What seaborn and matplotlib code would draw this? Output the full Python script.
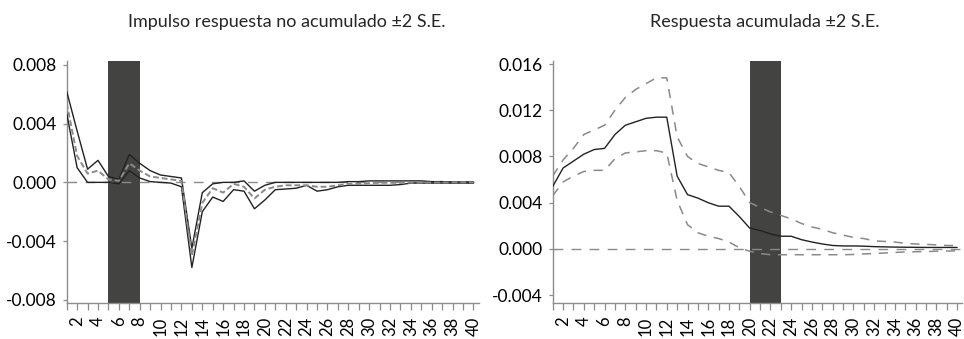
import numpy as np
import pandas as pd
import matplotlib
matplotlib.use("Agg")
import matplotlib.pyplot as plt
import seaborn as sns

periods = list(range(1, 41))

# Left panel: non-accumulated impulse response +-2 S.E.
irf_mid = [0.0054, 0.0018, 0.0006, 0.0008, 0.0002, 0.0001, 0.0013, 0.0008, 0.0004, 0.0003,
           0.0002, 0.0001, -0.0050, -0.0014, -0.0004, -0.0007, -0.0001, -0.0003, -0.0011, -0.0005,
           -0.0003, -0.0002, -0.0002, -0.0002, -0.0003, -0.0003, -0.0002, -0.0001, -0.0001, -0.00005,
           -0.00003, -0.00003, -0.00003, -0.00002, -0.00002, -0.00001, -0.00001, 0.0, 0.0, 0.0]
irf_up = [0.0062, 0.0035, 0.0009, 0.0015, 0.0004, 0.0002, 0.0019, 0.0013, 0.0008, 0.0005,
          0.0004, 0.0003, -0.0045, -0.0007, -0.0001, 0.0000, 0.0000, 0.0001, -0.0006, -0.0002,
          0.0000, 0.0000, 0.0000, 0.0000, 0.0000, 0.0000, 0.0000, 0.00005, 0.00005, 0.0001,
          0.0001, 0.0001, 0.0001, 0.0001, 0.0001, 0.00005, 0.00005, 0.00003, 0.00003, 0.00003]
irf_lo = [0.0047, 0.0010, 0.0000, 0.0000, 0.0000, -0.0001, 0.0008, 0.0003, 0.00005, 0.0000,
          -0.00005, -0.0003, -0.0058, -0.0020, -0.0010, -0.0013, -0.0005, -0.0006, -0.0018, -0.0012,
          -0.0005, -0.00045, -0.0004, -0.0002, -0.0006, -0.0005, -0.0003, -0.0002, -0.0002, -0.0002,
          -0.0002, -0.0002, -0.00015, -0.00005, -0.00005, -0.00005, -0.00005, -0.00005, -0.00005, -0.00005]

# Right panel: accumulated response +-2 S.E.
acc_mid = [0.0054, 0.0070, 0.0076, 0.0082, 0.0086, 0.0087, 0.0099, 0.0107, 0.0110, 0.0113,
           0.0114, 0.0114, 0.0063, 0.0047, 0.0044, 0.0040, 0.0037, 0.0037, 0.0028, 0.0018,
           0.0016, 0.0013, 0.0011, 0.0011, 0.0008, 0.0006, 0.00043, 0.0003, 0.00026, 0.00026,
           0.00024, 0.0002, 0.00018, 0.00016, 0.00015, 0.00014, 0.00013, 0.00013, 0.00013, 0.00013]
acc_up = [0.0063, 0.0077, 0.0087, 0.0099, 0.0103, 0.0107, 0.0120, 0.0131, 0.0138, 0.0143,
          0.0148, 0.0148, 0.0097, 0.0080, 0.0074, 0.0071, 0.0068, 0.0066, 0.0054, 0.0040,
          0.0036, 0.0032, 0.0029, 0.0026, 0.0022, 0.0019, 0.0017, 0.0014, 0.0012, 0.0010,
          0.0009, 0.0007, 0.00065, 0.0006, 0.00048, 0.00043, 0.0004, 0.00035, 0.0003, 0.0003]
acc_lo = [0.0046, 0.0058, 0.0063, 0.0067, 0.0068, 0.0068, 0.0078, 0.0083, 0.0084, 0.0085,
          0.0085, 0.0083, 0.0042, 0.0021, 0.0014, 0.0011, 0.0009, 0.0006, 0.0001, -0.0002,
          -0.0004, -0.0005, -0.0005, -0.0005, -0.0005, -0.0005, -0.0005, -0.0005, -0.0005, -0.00048,
          -0.00043, -0.0004, -0.00035, -0.0003, -0.00026, -0.00024, -0.00022, -0.0002, -0.00018, -0.00017]

titles = ["Impulso respuesta no acumulado \u00b12 S.E.", "Respuesta acumulada \u00b12 S.E."]
left_yticks = [-0.008, -0.004, 0.000, 0.004, 0.008]
right_yticks = [-0.004, 0.000, 0.004, 0.008, 0.012, 0.016]
left_shade = (5, 8)
right_shade = (20, 23)

sns.set_style("white")
plt.rcParams["font.family"] = ["Lato", "DejaVu Sans"]

W, H = 964, 339
fig = plt.figure(figsize=(W / 100, H / 100), dpi=100)
axL = fig.add_axes([66.7 / W, 1 - 302.7 / H, (478.7 - 66.7) / W, (302.7 - 61) / H])
axR = fig.add_axes([552.7 / W, 1 - 302.7 / H, (962.3 - 552.7) / W, (302.7 - 61) / H])

dfL = pd.DataFrame({"t": periods, "mid": irf_mid, "up": irf_up, "lo": irf_lo})
dfR = pd.DataFrame({"t": periods, "mid": acc_mid, "up": acc_up, "lo": acc_lo})

black = "#222222"
gray = "#8a8a8a"
shade = "#434341"

# left
axL.axvspan(*left_shade, color=shade, lw=0, zorder=1)
axL.axhline(0, color=gray, lw=1.0, dashes=(7, 6), zorder=2)
sns.lineplot(data=dfL, x="t", y="up", ax=axL, color=black, lw=1.0, zorder=3)
sns.lineplot(data=dfL, x="t", y="lo", ax=axL, color=black, lw=1.0, zorder=3)
sns.lineplot(data=dfL, x="t", y="mid", ax=axL, color=gray, lw=1.4, zorder=4)
axL.lines[-1].set_dashes((3, 1.5))

# right
axR.axvspan(*right_shade, color=shade, lw=0, zorder=1)
axR.axhline(0, color=gray, lw=1.0, dashes=(7, 6), zorder=2)
sns.lineplot(data=dfR, x="t", y="up", ax=axR, color=gray, lw=1.1, zorder=3)
axR.lines[-1].set_dashes((6, 5))
sns.lineplot(data=dfR, x="t", y="lo", ax=axR, color=gray, lw=1.1, zorder=3)
axR.lines[-1].set_dashes((6, 5))
sns.lineplot(data=dfR, x="t", y="mid", ax=axR, color=black, lw=1.0, zorder=4)

for ax, yt, ylim in [(axL, left_yticks, (-0.0082, 0.00827)), (axR, right_yticks, (-0.00465, 0.01626))]:
    ax.set_xlim(1, 40.5)
    ax.set_ylim(*ylim)
    ax.set_xticks(periods)
    ax.set_xticklabels([str(p) if p % 2 == 0 else "" for p in periods], rotation=90)
    ax.set_yticks(yt)
    ax.set_yticklabels([f"{v:.3f}" for v in yt])
    ax.set_xlabel("")
    ax.set_ylabel("")
    for s in ["top", "right"]:
        ax.spines[s].set_visible(False)
    for s in ["left", "bottom"]:
        ax.spines[s].set_color("#8c8c8c")
        ax.spines[s].set_linewidth(1.0)
    ax.tick_params(axis="x", direction="out", length=5, width=0.9, color="#8c8c8c",
                   pad=5, labelsize=12, labelcolor="black", bottom=True)
    ax.tick_params(axis="y", direction="out", length=3, width=0.9, color="#8c8c8c",
                   pad=4, labelsize=12.5, labelcolor="black", left=True)
    ax.grid(False)

fig.text(287 / W, 1 - 22 / H, titles[0], ha="center", va="center", fontsize=13)
fig.text(765 / W, 1 - 22 / H, titles[1], ha="center", va="center", fontsize=13)

fig.savefig("out.png", dpi=100)
